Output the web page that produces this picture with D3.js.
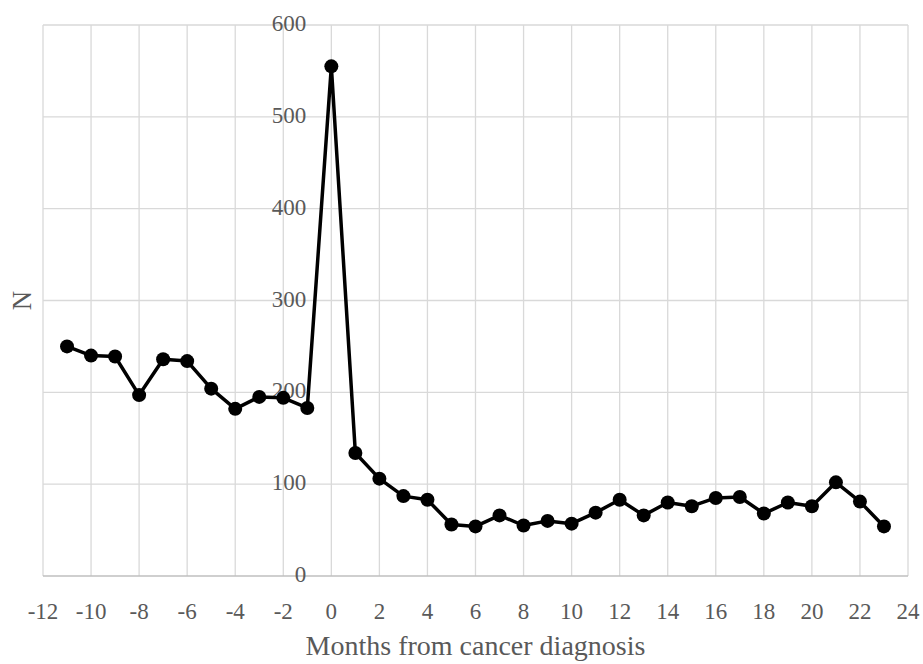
<!DOCTYPE html>
<html>
<head>
<meta charset="utf-8">
<script src="https://cdn.jsdelivr.net/npm/d3@7"></script>
<style>
  body { margin: 0; background: #fff; }
  text { font-family: "Liberation Serif", "DejaVu Serif", serif; fill: #595959; }
</style>
</head>
<body>
<svg id="chart" width="923" height="664"></svg>
<script>
// months relative to diagnosis and counts
const months = [-11, -10, -9, -8, -7, -6, -5, -4, -3, -2, -1, 0, 1, 2, 3, 4, 5, 6, 7, 8, 9, 10, 11,
  12, 13, 14, 15, 16, 17, 18, 19, 20, 21, 22, 23];
const counts = [250, 240, 239, 197, 236, 234, 204, 182, 195, 194, 183, 555, 134, 106, 87, 83, 56, 54, 66, 55, 60, 57, 69,
  83, 66, 80, 76, 85, 86, 68, 80, 76, 102, 81, 54];
const xTicks = d3.range(-12, 25, 2);
const yTicks = [0, 100, 200, 300, 400, 500, 600];

const svg = d3.select("#chart");
const margin = {left: 43, right: 15, top: 25, bottom: 88};
const width = 923 - margin.left - margin.right;
const height = 664 - margin.top - margin.bottom;

const x = d3.scaleLinear().domain([-12, 24]).range([margin.left, margin.left + width]);
const y = d3.scaleLinear().domain([0, 600]).range([margin.top + height, margin.top]);

// grid
svg.append("g")
  .selectAll("line.v")
  .data(xTicks)
  .enter().append("line")
    .attr("x1", d => x(d)).attr("x2", d => x(d))
    .attr("y1", y(0)).attr("y2", y(600))
    .attr("stroke", "#d9d9d9").attr("stroke-width", 1.3);

svg.append("g")
  .selectAll("line.h")
  .data(yTicks.slice(1))
  .enter().append("line")
    .attr("x1", x(-12)).attr("x2", x(24))
    .attr("y1", d => y(d)).attr("y2", d => y(d))
    .attr("stroke", "#d9d9d9").attr("stroke-width", 1.3);

// x axis line
svg.append("line")
  .attr("x1", x(-12)).attr("x2", x(24))
  .attr("y1", y(0)).attr("y2", y(0))
  .attr("stroke", "#bfbfbf").attr("stroke-width", 1.5);

// x axis tick labels
svg.append("g")
  .selectAll("text")
  .data(xTicks)
  .enter().append("text")
    .attr("x", d => x(d))
    .attr("y", y(0) + 43)
    .attr("text-anchor", "middle")
    .style("font-size", "23px")
    .text(d => d);

// y tick labels sit just left of the x = 0 line
svg.append("g")
  .selectAll("text")
  .data(yTicks)
  .enter().append("text")
    .attr("x", x(0) - 25)
    .attr("y", d => y(d) - 2)
    .attr("dy", "0.35em")
    .attr("text-anchor", "end")
    .style("font-size", "23px")
    .text(d => d);

// series
const pts = months.map((m, i) => ({m: m, v: counts[i]}));
const line = d3.line().x(d => x(d.m)).y(d => y(d.v));

svg.append("path")
  .datum(pts)
  .attr("d", line)
  .attr("fill", "none")
  .attr("stroke", "#000")
  .attr("stroke-width", 3.5)
  .attr("stroke-linejoin", "round");

svg.append("g")
  .selectAll("circle")
  .data(pts)
  .enter().append("circle")
    .attr("cx", d => x(d.m))
    .attr("cy", d => y(d.v))
    .attr("r", 7)
    .attr("fill", "#000");

// axis titles
svg.append("text")
  .attr("x", margin.left + width / 2)
  .attr("y", 655)
  .attr("text-anchor", "middle")
  .style("font-size", "28px")
  .text("Months from cancer diagnosis");

svg.append("text")
  .attr("transform", "translate(31," + (margin.top + height / 2) + ") rotate(-90)")
  .attr("text-anchor", "middle")
  .style("font-size", "27px")
  .text("N");
</script>
</body>
</html>
